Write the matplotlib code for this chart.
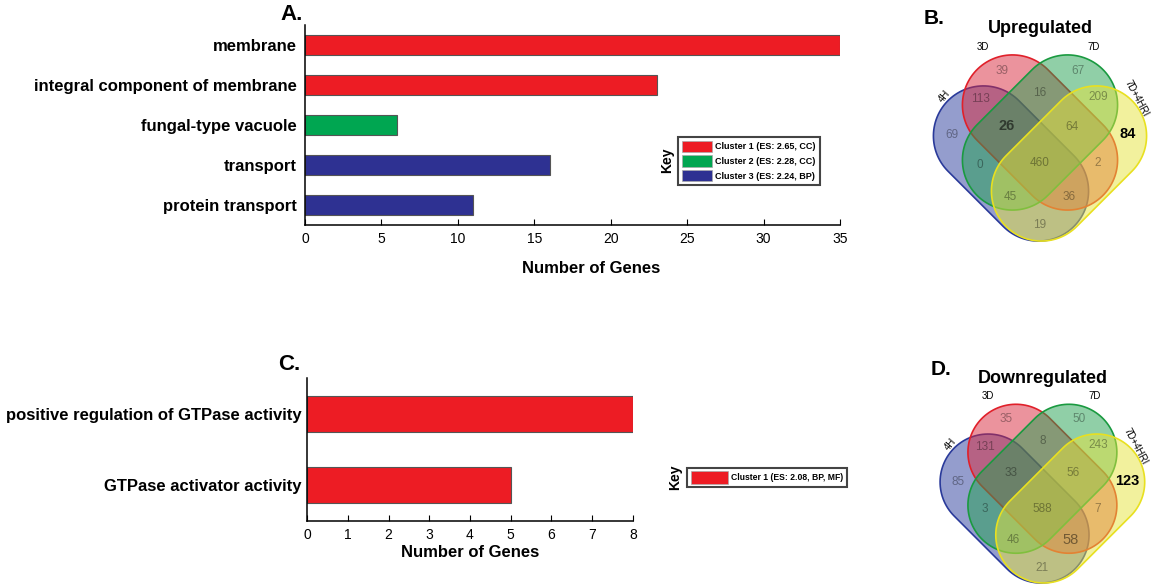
import numpy as np
import matplotlib
matplotlib.use("Agg")
import matplotlib.pyplot as plt
from matplotlib.patches import Polygon, Patch

plt.rcParams['font.family'] = ['Liberation Sans', 'DejaVu Sans']
NARROW = ['Liberation Sans Narrow', 'Liberation Sans', 'DejaVu Sans']

# panel A data
terms_a = ['membrane', 'integral component of membrane', 'fungal-type vacuole',
           'transport', 'protein transport']
genes_a = [35, 23, 6, 16, 11]
cluster_a = [0, 0, 1, 2, 2]
keys_a = ['Cluster 1 (ES: 2.65, CC)', 'Cluster 2 (ES: 2.28, CC)',
          'Cluster 3 (ES: 2.24, BP)']

# panel C data
terms_c = ['positive regulation of GTPase activity', 'GTPase activator activity']
genes_c = [8, 5]
keys_c = ['Cluster 1 (ES: 2.08, BP, MF)']

# venn data (region order: see region_xy below)
sets = ['4H', '3D', '7D', '7D+4HRI']
up_counts = [39, 67, 113, 16, 209, 69, 26, 64, 84, 0, 460, 2, 45, 36, 19]
down_counts = [35, 50, 131, 8, 243, 85, 33, 56, 123, 3, 588, 7, 46, 58, 21]

clust_colors = ['#ed1c24', '#00a651', '#2e3192']

W, H = 1161, 586
fig = plt.figure(figsize=(W / 100, H / 100), dpi=100)


def fbox(x0, y0, x1, y1):
    # pixel box (top-left origin) -> figure fraction rect
    return [x0 / W, 1 - y1 / H, (x1 - x0) / W, (y1 - y0) / H]


def barpanel(ax, terms, vals, cols, xmax, step, tickfont):
    y = np.arange(len(terms))
    ax.barh(y, vals, height=0.5, color=cols, edgecolor='#555555', linewidth=0.8)
    ax.set_ylim(len(terms) - 0.5, -0.5)
    ax.set_xlim(0, xmax)
    ax.set_xticks(np.arange(0, xmax + 1, step))
    ax.set_yticks(y)
    ax.set_yticklabels(terms, fontsize=12, fontweight='bold')
    ax.tick_params(axis='y', length=0, pad=6)
    ax.tick_params(axis='x', direction='in', length=4, pad=5, labelsize=10)
    for lab in ax.get_xticklabels():
        lab.set_family(tickfont)
    for s in ['top', 'right']:
        ax.spines[s].set_visible(False)
    for s in ['left', 'bottom']:
        ax.spines[s].set_linewidth(1.1)
    ax.set_xlabel('Number of Genes', fontsize=12, fontweight='bold')


# ---- A ----
axA = fig.add_axes(fbox(305, 25, 840, 225))
barpanel(axA, terms_a, genes_a, [clust_colors[c] for c in cluster_a], 35, 5,
         ['Liberation Sans', 'DejaVu Sans'])
axA.xaxis.set_label_coords(0.535, -0.18)
fig.text(303 / W, 1 - 15 / H, 'A.', fontsize=16, fontweight='bold', ha='right', va='center')
hA = [Patch(facecolor=c, edgecolor='#aaaaaa', linewidth=0.5) for c in clust_colors]
legA = axA.legend(hA, keys_a, loc='center', bbox_to_anchor=(749 / W, 1 - 161 / H),
                  bbox_transform=fig.transFigure, prop={'weight': 'bold', 'size': 6.5},
                  handlelength=3.3, handleheight=1.5, labelspacing=0.4,
                  handletextpad=0.4, borderpad=0.4, borderaxespad=0,
                  fancybox=False, edgecolor='#444444', framealpha=1)
legA.get_frame().set_linewidth(1.5)
fig.text(667 / W, 1 - 160 / H, 'Key', fontsize=10, fontweight='bold', rotation=90,
         ha='center', va='center')

# ---- C ----
axC = fig.add_axes(fbox(307, 378, 633, 521))
barpanel(axC, terms_c, genes_c, [clust_colors[0]] * 2, 8, 1, NARROW)
axC.tick_params(axis='y', pad=4)
axC.xaxis.set_label_coords(0.5, -0.168)
fig.text(300 / W, 1 - 365 / H, 'C.', fontsize=16, fontweight='bold', ha='right', va='center')
hC = [Patch(facecolor=clust_colors[0], edgecolor='#aaaaaa', linewidth=0.5)]
legC = axC.legend(hC, keys_c, loc='center', bbox_to_anchor=(767 / W, 1 - 477.5 / H),
                  bbox_transform=fig.transFigure, prop={'weight': 'bold', 'size': 6.2},
                  handlelength=4.3, handleheight=1.8, handletextpad=0.4,
                  borderpad=0.45, borderaxespad=0,
                  fancybox=False, edgecolor='#444444', framealpha=1)
legC.get_frame().set_linewidth(1.5)
fig.text(675 / W, 1 - 477 / H, 'Key', fontsize=10, fontweight='bold', rotation=90,
         ha='center', va='center')

# ---- Venn diagrams ----
HL, R = 39, 50
# blue, red, green, yellow capsules: centre and axis angle
shapes = [((-29, -37), -45, '#2b3c9c', '#2a3a9a'),
          ((0, -6), -45, '#d9283c', '#e0202a'),
          ((0, -6), 45, '#22a050', '#1a9a40'),
          ((29, -37), 45, '#e6e43c', '#e8e020')]
region_xy = [(-38, 56), (38, 56), (-60, 27), (0, 33), (58, 29),
             (-88, -9), (-33, 0), (32, 0), (88, -8),
             (-60, -38), (0, -37), (58, -37),
             (-30, -70), (29, -70), (0, -99)]
set_xy = [(-96, 30, 50), (-57, 80, 0), (54, 80, 0), (97, 28, -62)]


def capsule(c, ang):
    t = np.radians(ang)
    u = np.array([np.cos(t), np.sin(t)])
    c = np.array(c, float)
    e1, e2 = c + HL * u, c - HL * u
    a1 = np.linspace(ang - 90, ang + 90, 60)
    a2 = np.linspace(ang + 90, ang + 270, 60)
    p1 = e1 + R * np.c_[np.cos(np.radians(a1)), np.sin(np.radians(a1))]
    p2 = e2 + R * np.c_[np.cos(np.radians(a2)), np.sin(np.radians(a2))]
    return np.vstack([p1, p2])


def venn(rect, cx, cy, sc, counts, title, letter, emph):
    ax = fig.add_axes(fbox(*rect))
    x0, y0, x1, y1 = rect
    ax.set_xlim((x0 - cx) / sc, (x1 - cx) / sc)
    ax.set_ylim((cy - y1) / sc, (cy - y0) / sc)
    ax.axis('off')
    for c, ang, fc, ec in shapes:
        ax.add_patch(Polygon(capsule(c, ang), closed=True, facecolor=fc, alpha=0.5,
                             edgecolor='none'))
        ax.add_patch(Polygon(capsule(c, ang), closed=True, facecolor='none',
                             edgecolor=ec, linewidth=1.2))
    for i, (v, (x, y)) in enumerate(zip(counts, region_xy)):
        st = emph.get(i, dict(color='black', alpha=0.35, fontsize=8.5))
        ax.text(x, y, str(v), ha='center', va='center', **st)
    for name, (x, y, rot) in zip(sets, set_xy):
        ax.text(x, y, name, ha='center', va='center', rotation=rot, fontsize=7)
    ax.text(0, 98, title, ha='center', va='center', fontsize=13, fontweight='bold')
    ax.text(-106, 108, letter, ha='center', va='center', fontsize=15, fontweight='bold')


venn((915, 0, 1161, 250), 1040, 126.5, 1.0, up_counts, 'Upregulated', 'B.',
     {6: dict(color='black', alpha=0.55, fontsize=10.5, fontweight='bold'),
      8: dict(color='black', fontsize=10.5, fontweight='bold')})
venn((915, 336, 1161, 586), 1042.4, 473, 0.96, down_counts, 'Downregulated', 'D.',
     {13: dict(color='black', alpha=0.45, fontsize=10.5),
      8: dict(color='black', fontsize=10.5, fontweight='bold')})

fig.savefig('out.png', dpi=100)
